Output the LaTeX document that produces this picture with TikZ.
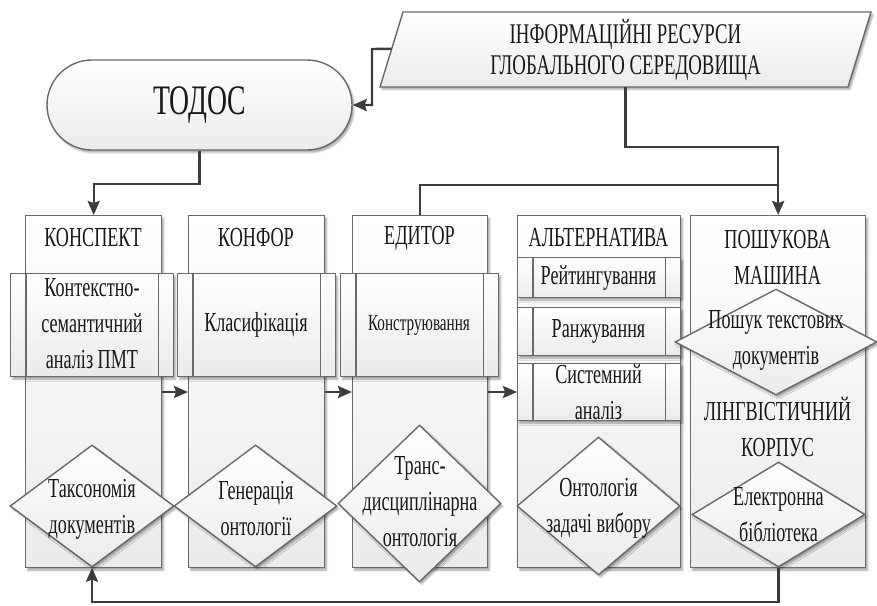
\documentclass[tikz,border=0pt]{standalone}
\usepackage{fontspec}
\setmainfont{Liberation Serif}[FakeStretch=0.66]
\usetikzlibrary{arrows.meta,shapes.geometric,shadows.blur,calc}

\definecolor{edgegray}{HTML}{6A6A6A}
\definecolor{wiregray}{HTML}{3C3C3C}
\definecolor{ink}{HTML}{181818}

\newcommand\labfont{\fontsize{27.5}{36}\selectfont}
\newcommand\smallfont{\fontsize{23}{30}\selectfont}
\newcommand\bigfont{\fontsize{42}{42}\selectfont}

\tikzset{
  panel/.style={draw=edgegray, line width=1.4pt, top color=white, bottom color=black!8,
    blur shadow={shadow xshift=2pt, shadow yshift=-2.5pt, shadow blur steps=4, shadow opacity=35}},
  lane/.style={panel, rectangle, inner sep=0pt, anchor=north west},
  rhomb/.style={panel, diamond, inner sep=0pt},
  divider/.style={draw=edgegray, line width=1.4pt},
  wire/.style={draw=wiregray, line width=2.4pt},
  arr/.style={wire, -{Stealth[length=14pt,width=12pt,inset=2pt]}},
  lbl/.style={font=\labfont, text=ink, align=center, inner sep=0pt},
}

\begin{document}
\begin{tikzpicture}[x=1pt, y=-1pt]
\useasboundingbox (0,0) rectangle (877,605);

% external resources (parallelogram)
\coordinate (p1) at (403,12);
\coordinate (p2) at (871,12);
\coordinate (p3) at (848,87);
\coordinate (p4) at (380,87);
\path[panel] (p1) -- (p2) -- (p3) -- (p4) -- cycle;
\node[lbl, minimum width=440pt, minimum height=75pt, font=\fontsize{28.5}{31}\selectfont] (res) at (625.5,49.5)
  {ІНФОРМАЦІЙНІ РЕСУРСИ\\ГЛОБАЛЬНОГО СЕРЕДОВИЩА};
\coordinate (resL) at ($(p1)!0.49!(p4)$);

% terminator
\node[panel, rectangle, rounded corners=45pt, minimum width=305pt, minimum height=90pt,
  inner sep=0pt, font=\bigfont, text=ink] (todos) at (199.5,105) {ТОДОС};

% lanes
\node[lane, minimum width=136pt, minimum height=352pt] (c1) at (25,215) {};
\node[lane, minimum width=136pt, minimum height=352pt] (c2) at (188,215) {};
\node[lane, minimum width=135pt, minimum height=352pt] (c3) at (352,215) {};
\node[lane, minimum width=163pt, minimum height=352pt] (c4) at (517,215) {};
\node[lane, minimum width=175pt, minimum height=352pt] (c5) at (690,215) {};

\node[lbl] (t1) at (93,238) {КОНСПЕКТ};
\node[lbl] (t2) at (256,238) {КОНФОР};
\node[lbl] (t3) at (419.5,238) {ЕДИТОР};
\node[lbl] (t4) at (598.5,238) {АЛЬТЕРНАТИВА};
\node[lbl] (t5) at (777.5,257) {ПОШУКОВА\\МАШИНА};
\node[lbl] (t6) at (777.5,427) {ЛІНГВІСТИЧНИЙ\\КОРПУС};

% predefined processes
\node[lane, minimum width=163pt, minimum height=103pt] (s1) at (10,273) {};
\node[lane, minimum width=158pt, minimum height=103pt] (s2) at (177,273) {};
\node[lane, minimum width=158pt, minimum height=103pt] (s3) at (340,273) {};
\node[lane, minimum width=163pt, minimum height=40pt] (a1) at (517,257) {};
\node[lane, minimum width=163pt, minimum height=48pt] (a2) at (517,307) {};
\node[lane, minimum width=163pt, minimum height=57pt] (a3) at (517,363) {};
\foreach \b in {s1,s2,s3,a1,a2,a3}{
  \draw[divider] ([xshift=16pt]\b.north west) -- ([xshift=16pt]\b.south west);
  \draw[divider] ([xshift=-16pt]\b.north east) -- ([xshift=-16pt]\b.south east);
}
\node[lbl] (s1t) at (92,324) {Контекстно-\\семантичний\\аналіз ПМТ};
\node[lbl] (s2t) at (256,325) {Класифікація};
\node[lbl, font=\smallfont] (s3t) at (419,325) {Конструювання};
\node[lbl] (a1t) at (598.5,278) {Рейтингування};
\node[lbl] (a2t) at (598.5,331) {Ранжування};
\node[lbl] (a3t) at (598.5,392) {Системний\\аналіз};

% decisions
\node[rhomb, minimum width=164pt, minimum height=122pt] (d1) at (92,506) {};
\node[rhomb, minimum width=163pt, minimum height=122pt] (d2) at (255.5,506) {};
\node[rhomb, minimum width=163pt, minimum height=157pt] (d3) at (419.5,503.5) {};
\node[rhomb, minimum width=163pt, minimum height=138pt] (d4) at (598.5,506) {};
\node[rhomb, minimum width=202pt, minimum height=106pt] (d5) at (776,342) {};
\node[rhomb, minimum width=173pt, minimum height=105pt] (d6) at (778.5,514.5) {};

\node[lbl] (d1t) at (92,509) {Таксономія\\документів};
\node[lbl] (d2t) at (256,509) {Генерація\\онтології};
\node[lbl] (d3t) at (420,502) {Транс-\\дисциплінарна\\онтологія};
\node[lbl] (d4t) at (598.5,508) {Онтологія\\задачі вибору};
\node[lbl] (d5t) at (776,340) {Пошук текстових\\документів};
\node[lbl] (d6t) at (778.5,515) {Електронна\\бібліотека};

% connectors
\coordinate (mid) at (0,392);
\coordinate (jn) at ($(c5.north)+(0,-30)$);
\draw[arr] (resL) -- (372,49) |- (todos.east);
\draw[arr] (todos.south) -- ++(0,33) -| (c1.north);
\draw[arr] (res.south) -- ++(0,60) -| (c5.north);
\draw[wire] (jn) -| (c3.north);
\draw[arr] (c1.east |- mid) -- (c2.west |- mid);
\draw[arr] (c2.east |- mid) -- (c3.west |- mid);
\draw[arr] (c3.east |- mid) -- (c4.west |- mid);
\draw[arr] (d6.south) -- ++(0,34) -| (d1.south);
\end{tikzpicture}
\end{document}
